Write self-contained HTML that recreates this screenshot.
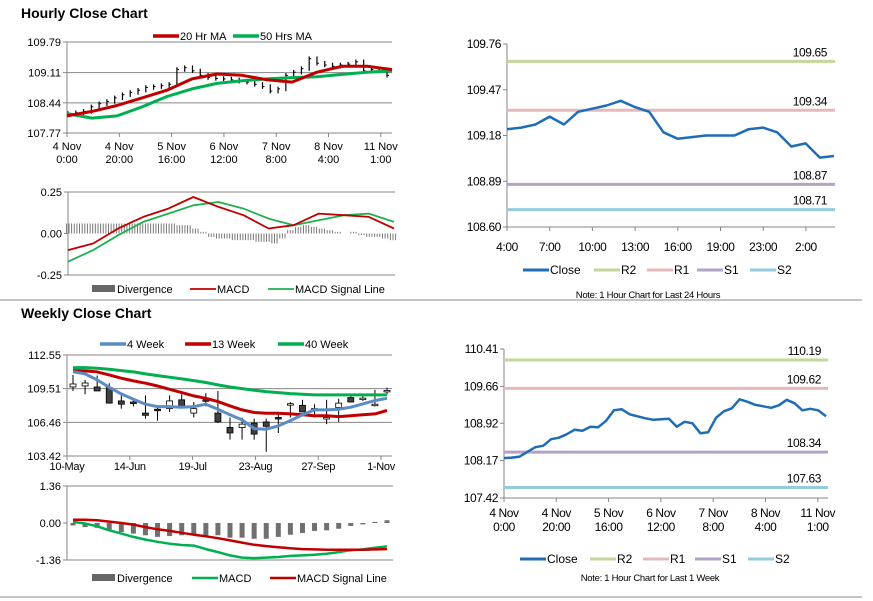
<!DOCTYPE html>
<html><head><meta charset="utf-8"><style>
body{margin:0;background:#fff;width:873px;height:601px;overflow:hidden}
svg{display:block;font-family:"Liberation Sans",Arial,sans-serif}
</style></head><body>
<svg id="root" width="873" height="601" viewBox="0 0 873 601" xmlns="http://www.w3.org/2000/svg">
<text x="21" y="18" font-size="14" font-weight="bold">Hourly Close Chart</text>
<text x="21" y="318" font-size="14" font-weight="bold">Weekly Close Chart</text>
<line x1="0" y1="300" x2="862" y2="300" stroke="#888" stroke-width="1"/>
<line x1="0" y1="597" x2="862" y2="597" stroke="#888" stroke-width="1"/>
</svg>
<script>
// ---------- data ----------
const hourlyCloses=[108.20,108.22,108.25,108.35,108.42,108.47,108.55,108.62,108.67,108.72,108.78,108.80,108.82,108.85,109.18,109.22,109.15,109.05,109.00,108.98,108.97,108.95,108.92,108.90,108.85,108.80,108.70,108.75,109.05,109.12,109.20,109.42,109.32,109.28,109.25,109.28,109.30,109.35,109.15,109.18,109.15,109.05];
const hourlyMA20=[108.15,108.25,108.38,108.55,108.72,108.97,109.08,109.05,108.95,108.90,109.12,109.25,109.25,109.18];
const hourlyMA50=[108.20,108.10,108.15,108.35,108.58,108.75,108.87,108.93,108.97,109.00,109.02,109.07,109.12,109.15];
const hourlyYTicks=[107.77,108.44,109.11,109.79];
const hourlyXLabels=[["4 Nov","0:00"],["4 Nov","20:00"],["5 Nov","16:00"],["6 Nov","12:00"],["7 Nov","8:00"],["8 Nov","4:00"],["11 Nov","1:00"]];
const hMacd=[-0.10,-0.06,0.03,0.10,0.15,0.22,0.16,0.11,0.03,0.05,0.12,0.11,0.10,0.03];
const hSignal=[-0.17,-0.10,-0.01,0.07,0.12,0.17,0.19,0.15,0.09,0.05,0.08,0.11,0.12,0.07];
const hDiv=[0.06,0.06,0.06,0.06,0.06,0.06,0.06,0.06,0.06,0.06,0.06,0.06,0.06,0.06,0.05,0.05,0.03,0.01,-0.02,-0.03,-0.03,-0.04,-0.04,-0.04,-0.05,-0.05,-0.06,-0.03,0.02,0.04,0.05,0.04,0.03,0.02,0.01,0.0,0.01,-0.01,-0.02,-0.02,-0.03,-0.04];
const hMacdTicks=[-0.25,0.00,0.25];

const dayCloses=[109.22,109.23,109.25,109.30,109.25,109.33,109.35,109.37,109.40,109.36,109.33,109.20,109.16,109.17,109.18,109.18,109.18,109.22,109.23,109.20,109.11,109.13,109.04,109.05];
const dayLevels=[109.65,109.34,108.87,108.71];
const dayYTicks=[108.60,108.89,109.18,109.47,109.76];
const dayXLabels=["4:00","7:00","10:00","13:00","16:00","19:00","23:00","2:00"];

const wOpen=[109.66,109.75,109.66,109.60,108.40,108.30,107.30,107.65,107.70,108.50,107.30,108.50,107.30,106.00,106.00,106.40,106.50,106.90,108.10,108.00,107.60,106.80,107.80,108.70,108.60,108.05,109.25];
const wClose=[109.93,110.02,109.30,108.20,108.10,108.20,107.10,107.60,108.40,107.90,107.70,108.45,106.50,105.50,106.30,105.40,106.10,106.85,108.15,107.40,107.70,106.90,108.20,108.30,108.65,108.10,109.35];
const wHigh=[110.74,110.30,110.70,110.00,108.90,108.60,108.90,108.00,108.90,109.00,108.30,109.10,109.30,106.90,106.90,106.80,106.80,107.20,108.30,108.50,108.10,108.50,108.60,108.90,108.80,109.40,109.60];
const wLow=[109.30,109.00,109.30,108.20,107.70,107.90,106.80,106.60,107.40,107.90,106.90,107.90,106.40,104.90,104.90,104.90,103.80,105.50,106.90,107.40,106.90,106.30,106.50,108.30,108.40,107.90,109.00];
const w4=[111.05,110.84,110.30,109.63,109.03,108.55,108.10,107.89,107.89,107.83,107.89,108.10,107.65,107.14,106.68,105.90,105.84,106.14,106.62,107.14,107.59,107.59,107.65,107.83,108.13,108.43,108.64];
const w13=[111.14,111.11,111.02,110.75,110.45,110.21,110.00,109.75,109.45,109.15,108.85,108.64,108.34,107.95,107.59,107.35,107.29,107.29,107.23,107.14,107.05,107.05,106.98,107.05,107.14,107.23,107.53];
const w40=[111.41,111.41,111.35,111.26,111.14,111.02,110.84,110.69,110.54,110.39,110.24,110.06,109.85,109.66,109.51,109.36,109.24,109.15,109.06,109.00,108.94,108.94,108.94,108.94,108.94,108.94,108.94];
const wYTicks=[103.42,106.46,109.51,112.55];
const wXLabels=["10-May","14-Jun","19-Jul","23-Aug","27-Sep","1-Nov"];
const wDiv=[-0.09,-0.15,-0.18,-0.25,-0.33,-0.39,-0.45,-0.51,-0.48,-0.45,-0.45,-0.48,-0.45,-0.54,-0.54,-0.58,-0.58,-0.51,-0.43,-0.37,-0.29,-0.27,-0.21,-0.11,-0.05,0.04,0.10];
const wMacd=[0.04,-0.02,-0.12,-0.27,-0.39,-0.51,-0.61,-0.69,-0.76,-0.81,-0.83,-0.96,-1.07,-1.19,-1.27,-1.29,-1.27,-1.25,-1.21,-1.19,-1.17,-1.13,-1.07,-1.00,-0.97,-0.91,-0.86];
const wSignal=[0.12,0.12,0.10,0.05,0.00,-0.06,-0.15,-0.23,-0.29,-0.36,-0.43,-0.49,-0.56,-0.64,-0.72,-0.80,-0.85,-0.89,-0.93,-0.96,-0.97,-0.98,-0.98,-0.98,-0.98,-0.97,-0.96];
const wMacdTicks=[-1.36,0.00,1.36];

const weekCloses=[108.22,108.23,108.25,108.35,108.44,108.47,108.60,108.63,108.70,108.79,108.77,108.85,108.84,108.97,109.18,109.20,109.10,109.06,109.02,108.99,109.00,109.01,108.85,108.95,108.92,108.72,108.74,109.03,109.16,109.22,109.40,109.35,109.29,109.26,109.23,109.28,109.39,109.32,109.18,109.21,109.18,109.06];
const weekLevels=[110.19,109.62,108.34,107.63];
const weekYTicks=[107.42,108.17,108.92,109.66,110.41];

const levelNames=["R2","R1","S1","S2"];
// ---------- helpers ----------
const NS="http://www.w3.org/2000/svg";
const root=document.getElementById('root');
function lin(d0,d1,r0,r1){return v=>r0+(v-d0)/(d1-d0)*(r1-r0);}
function mk(tag,attrs,name,inter){
  const el=document.createElementNS(NS,tag);
  for(const k in attrs)el.setAttribute(k,attrs[k]);
  
  
  root.appendChild(el);return el;
}
function txt(x,y,s,name,opts){
  const o=Object.assign({x:x,y:y,'font-size':11,fill:'#000'},opts||{});
  const t=mk('text',o,name,false);t.textContent=s;return t;
}
function line(x1,y1,x2,y2,stroke,w,name){return mk('line',{x1:x1,y1:y1,x2:x2,y2:y2,stroke:stroke,'stroke-width':w},name,false);}
function poly(arr,xs,ys,stroke,w,name){
  const pts=arr.map((v,i)=>xs(i).toFixed(1)+','+ys(v).toFixed(1)).join(' ');
  return mk('polyline',{points:pts,fill:'none',stroke:stroke,'stroke-width':w,'stroke-linejoin':'round'},name,false);
}
function legendLine(x,y,color,w,label,name,fs){
  line(x,y,x+26,y,color,w,name+'-swatch');
  txt(x+27,y+4,label,name+'-label',{'font-size':fs||11});
}
const AX='#868686';
function yAxis(x0,x1,ys,ticks,fmt,grid,name,opts){
  line(x0,ys(ticks[0]),x0,ys(ticks[ticks.length-1]),AX,1,name+'-line');
  ticks.forEach((t,i)=>{
    const y=ys(t);
    if(grid)line(x0,y,x1,y,AX,1,name+'-gridline');
    line(x0-4,y,x0,y,AX,1,name+'-tick');
    txt(x0-6,y+4,t.toFixed(2),name+'-label',Object.assign({'text-anchor':'end'},opts||{}));
  });
}
// ---------- Hourly candle chart ----------
{
 const xs=lin(0,41,68,387), xm=lin(0,13,67,392), ys=lin(107.77,109.79,133,42);
 yAxis(67,392,ys,hourlyYTicks,null,true,'hourly-y-axis');
 hourlyXLabels.forEach((l,i)=>{const x=67+i*52.3;line(x,133,x,137,AX,1,'hourly-x-tick');
  txt(x,150,l[0],'hourly-x-label',{'text-anchor':'middle'});txt(x,163,l[1],'hourly-x-label',{'text-anchor':'middle'});});
 hourlyCloses.forEach((c,i)=>{
  const o=i?hourlyCloses[i-1]:c; const x=xs(i);
  line(x,ys(Math.max(o,c)+0.05),x,ys(Math.min(o,c)-0.05),'#000',1.2,'hourly-bar');
  line(x,ys(c),x+2,ys(c),'#000',1,'hourly-close-tick');
 });
 poly(hourlyMA50,xm,ys,'#00b050',3,'ma50-line');
 poly(hourlyMA20,xm,ys,'#c00000',3,'ma20-line');
 legendLine(153,36,'#c00000',3.5,'20 Hr MA','legend-ma20');
 legendLine(233,36,'#00b050',3.5,'50 Hrs MA','legend-ma50');
}
// ---------- Hourly MACD ----------
{
 const xs=lin(0,41,69,393), xm=lin(0,13,68,394), ys=lin(-0.25,0.25,275,192);
 line(68,192,395,192,AX,1,'hmacd-gridline');line(68,275,395,275,AX,1,'hmacd-gridline');
 line(68,192,68,275,AX,1,'hmacd-y-axis');
 hMacdTicks.forEach(t=>{line(64,ys(t),68,ys(t),AX,1,'hmacd-tick');txt(62,ys(t)+4,t.toFixed(2),'hmacd-y-label',{'text-anchor':'end'});});
 hDiv.forEach((v,i)=>{for(let k=0;k<3;k++){const x=xs(i)+k*2.6-2.6;line(x,ys(0),x,ys(v),'#777',1,'hmacd-divergence-bar');}});
 poly(hSignal,xm,ys,'#20b050',1.8,'hmacd-signal-line');
 poly(hMacd,xm,ys,'#c00000',1.8,'hmacd-macd-line');
 mk('rect',{x:92,y:285,width:23,height:7,fill:'#666'},'legend-divergence-swatch',false);
 txt(117,293,'Divergence','legend-divergence-label');
 legendLine(190,289,'#c00000',1.8,'MACD','legend-macd');
 legendLine(268,289,'#20b050',1.8,'MACD Signal Line','legend-signal');
}
// ---------- 24h chart ----------
function srChart(closes,levels,yt,ys,xs,x0,x1,prefix,labelX){
 const cols=['#c3d69b','#e6b9b8','#b3a2c7','#93cddd'];
 yAxis(x0,x1,ys,yt,null,false,prefix+'-y-axis',{'font-size':12,'letter-spacing':'-0.4'});
 line(x0,ys(yt[0]),x1,ys(yt[0]),AX,1,prefix+'-x-axis');
 levels.forEach((v,i)=>{line(x0,ys(v),x1,ys(v),cols[i],3,prefix+'-'+levelNames[i].toLowerCase()+'-line');
  txt(labelX,ys(v)-5,v.toFixed(2),prefix+'-'+levelNames[i].toLowerCase()+'-value',{'text-anchor':'end','font-size':12,'letter-spacing':'-0.4'});});
 poly(closes,xs,ys,'#1f6db5',2.5,prefix+'-close-line');
 return cols;
}
{
 const ys=lin(108.60,109.76,227,44), xs=lin(0,23,507,834);
 const cols=srChart(dayCloses,dayLevels,dayYTicks,ys,xs,507,835,'day','827');
 dayXLabels.forEach((l,i)=>{const x=507+i*42.7;line(x,227,x,231,AX,1,'day-x-tick');txt(x,251,l,'day-x-label',{'text-anchor':'middle','font-size':12,'letter-spacing':'-0.4'});});
 legendLine(523,270,'#1f6db5',3,'Close','day-legend-close',12);
 [594,647,697,750].forEach((x,i)=>legendLine(x,270,cols[i],3,levelNames[i],'day-legend-'+levelNames[i].toLowerCase(),12));
 txt(648,298,'Note: 1 Hour Chart for Last 24 Hours','day-note',{'text-anchor':'middle','font-size':9.5,'letter-spacing':'-0.3'});
}
// ---------- Weekly candle ----------
{
 const xs=lin(0,26,73,387), ys=lin(103.42,112.55,456,355);
 yAxis(67,392,ys,wYTicks,null,true,'weekly-y-axis');
 wXLabels.forEach((l,i)=>{const x=67+i*62.8;line(x,456,x,460,AX,1,'weekly-x-tick');txt(x,470,l,'weekly-x-label',{'text-anchor':'middle','letter-spacing':'-0.3'});});
 wClose.forEach((c,i)=>{const o=wOpen[i],x=xs(i);
  line(x,ys(wHigh[i]),x,ys(wLow[i]),'#000',1,'weekly-wick');
  const top=ys(Math.max(o,c)),bot=ys(Math.min(o,c));
  mk('rect',{x:x-3,y:top,width:6,height:Math.max(1.5,bot-top),fill:c>=o?'#fff':'#404040',stroke:'#000','stroke-width':0.8},'weekly-candle',false);
 });
 poly(w40,xs,ys,'#00b050',3,'week40-line');
 poly(w13,xs,ys,'#c00000',3,'week13-line');
 poly(w4,xs,ys,'#5b8cc5',3,'week4-line');
 legendLine(100,344,'#5b8cc5',3.5,'4 Week','legend-4week');
 legendLine(185,344,'#c00000',3.5,'13 Week','legend-13week');
 legendLine(278,344,'#00b050',3.5,'40 Week','legend-40week');
}
// ---------- Weekly MACD ----------
{
 const xs=lin(0,26,73,387), ys=lin(-1.36,1.36,560,486);
 line(67,486,393,486,AX,1,'wmacd-gridline');line(67,560,393,560,AX,1,'wmacd-gridline');
 line(67,486,67,560,AX,1,'wmacd-y-axis');
 wMacdTicks.forEach(t=>{line(63,ys(t),67,ys(t),AX,1,'wmacd-tick');txt(61,ys(t)+4,t.toFixed(2),'wmacd-y-label',{'text-anchor':'end'});});
 wDiv.forEach((v,i)=>{const y0=ys(0),y1=ys(v);mk('rect',{x:xs(i)-2.5,y:Math.min(y0,y1),width:5,height:Math.abs(y1-y0),fill:'#707070'},'wmacd-divergence-bar',false);});
 poly(wMacd,xs,ys,'#00b050',2.5,'wmacd-macd-line');
 poly(wSignal,xs,ys,'#c00000',2.5,'wmacd-signal-line');
 mk('rect',{x:92,y:574,width:23,height:7,fill:'#666'},'legend-wdivergence-swatch',false);
 txt(117,582,'Divergence','legend-wdivergence-label');
 legendLine(192,578,'#00b050',2.5,'MACD','legend-wmacd');
 legendLine(270,578,'#c00000',2.5,'MACD Signal Line','legend-wsignal');
}
// ---------- 1 week chart ----------
{
 const ys=lin(107.42,110.41,498,349), xs=lin(0,41,504,826);
 const cols=srChart(weekCloses,weekLevels,weekYTicks,ys,xs,504,828,'week','821');
 hourlyXLabels.forEach((l,i)=>{const x=504+i*52.3;line(x,498,x,502,AX,1,'week-x-tick');
  txt(x,517,l[0],'week-x-label',{'text-anchor':'middle','font-size':12,'letter-spacing':'-0.4'});txt(x,531,l[1],'week-x-label',{'text-anchor':'middle','font-size':12,'letter-spacing':'-0.4'});});
 legendLine(520,559,'#1f6db5',3,'Close','week-legend-close',12);
 [590,643,695,748].forEach((x,i)=>legendLine(x,559,cols[i],3,levelNames[i],'week-legend-'+levelNames[i].toLowerCase(),12));
 txt(650,581,'Note: 1 Hour Chart for Last 1 Week','week-note',{'text-anchor':'middle','font-size':9.5,'letter-spacing':'-0.3'});
}
</script>
</body></html>
